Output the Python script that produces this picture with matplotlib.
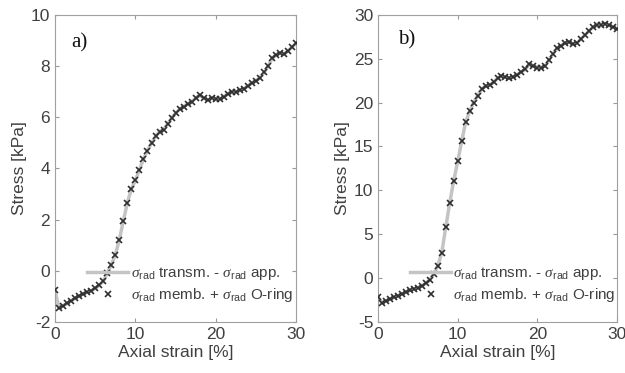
import matplotlib
matplotlib.use("Agg")
import matplotlib.pyplot as plt

plt.rcParams['font.family'] = ['Liberation Sans', 'DejaVu Sans']
plt.rcParams['mathtext.fontset'] = 'custom'
plt.rcParams['mathtext.rm'] = 'Liberation Sans'
plt.rcParams['mathtext.it'] = 'Liberation Serif:italic'
plt.rcParams['axes.unicode_minus'] = False

strain_a = [0, 0.5, 1, 1.5, 2, 2.5, 3, 3.5, 4, 4.5, 5, 5.5, 6, 6.5, 7, 7.5, 8, 8.5, 9, 9.5,
            10, 10.5, 11, 11.5, 12, 12.5, 13, 13.5, 14, 14.5, 15, 15.5, 16, 16.5, 17, 17.5,
            18, 18.5, 19, 19.5, 20, 20.5, 21, 21.5, 22, 22.5, 23, 23.5, 24, 24.5, 25, 25.5,
            26, 26.5, 27, 27.5, 28, 28.5, 29, 29.5, 30]
stress_a = [-0.77, -1.46, -1.37, -1.28, -1.17, -1.08, -0.99, -0.90, -0.83, -0.78, -0.69, -0.56,
            -0.42, -0.09, 0.23, 0.62, 1.21, 1.95, 2.66, 3.2, 3.53, 3.95, 4.36, 4.70, 4.99,
            5.25, 5.44, 5.52, 5.74, 5.96, 6.16, 6.31, 6.42, 6.52, 6.61, 6.74, 6.87, 6.75,
            6.68, 6.74, 6.72, 6.70, 6.80, 6.92, 7.0, 6.98, 7.05, 7.12, 7.23, 7.35, 7.43,
            7.55, 7.75, 8.0, 8.3, 8.45, 8.5, 8.47, 8.6, 8.75, 8.9]

strain_b = strain_a
stress_b = [-2.2, -2.85, -2.6, -2.4, -2.2, -2.0, -1.8, -1.6, -1.4, -1.25, -1.1, -0.9, -0.6,
            -0.2, 0.5, 1.4, 2.9, 5.8, 8.6, 11.1, 13.3, 15.6, 17.8, 19.0, 20.0, 20.8, 21.5,
            21.9, 22.0, 22.3, 22.8, 23.0, 22.9, 22.8, 22.9, 23.2, 23.5, 23.8, 24.4, 24.2,
            24.0, 24.0, 24.2, 24.9, 25.6, 26.2, 26.5, 26.8, 26.9, 26.7, 26.8, 27.3, 27.7,
            28.2, 28.6, 28.8, 28.9, 29.0, 28.8, 28.6, 28.4]

panels = [
    dict(x=strain_a, y=stress_a, ylim=(-2, 10), yticks=[-2, 0, 2, 4, 6, 8, 10],
         label='a)', lab_xy=(2.0, 8.9), rect=[0.088, 0.137, 0.386, 0.823]),
    dict(x=strain_b, y=stress_b, ylim=(-5, 30), yticks=[-5, 0, 5, 10, 15, 20, 25, 30],
         label='b)', lab_xy=(2.5, 27.1), rect=[0.605, 0.137, 0.382, 0.823]),
]

txt_col = '#404040'
fig = plt.figure(figsize=(6.25, 3.73), dpi=100)
for p in panels:
    ax = fig.add_axes(p['rect'])
    l1, = ax.plot(p['x'], p['y'], color='#c4c4c4', lw=2.5, zorder=2,
                  label=r'$\sigma_{\mathrm{rad}}$ transm. - $\sigma_{\mathrm{rad}}$ app.')
    l2, = ax.plot(p['x'], p['y'], ls='none', marker='x', color='#303030', ms=4.5, mew=1.2,
                  zorder=3, label=r'$\sigma_{\mathrm{rad}}$ memb. + $\sigma_{\mathrm{rad}}$ O-ring')
    ax.set_xlim(0, 30)
    ax.set_ylim(*p['ylim'])
    ax.set_xticks([0, 10, 20, 30])
    ax.set_yticks(p['yticks'])
    ax.tick_params(direction='in', top=True, right=True, length=3, width=0.8,
                   colors='#999999', labelcolor=txt_col, labelsize=12.5)
    for s in ax.spines.values():
        s.set_color('#a0a0a0')
        s.set_linewidth(0.8)
    ax.set_xlabel('Axial strain [%]', fontsize=12.5, color=txt_col, labelpad=2)
    ax.set_ylabel('Stress [kPa]', fontsize=12.5, color=txt_col, labelpad=3)
    ax.text(p['lab_xy'][0], p['lab_xy'][1], p['label'], fontsize=15,
            family='Liberation Serif', color='#111111', va='center')
    ax.legend(handles=[l1, l2], frameon=False, fontsize=11, loc='upper left',
              bbox_to_anchor=(0.133, 0.185), handlelength=2.7, handletextpad=0.15,
              labelspacing=0.25, labelcolor=txt_col, borderaxespad=0, borderpad=0)

fig.savefig('out.png', dpi=100)
